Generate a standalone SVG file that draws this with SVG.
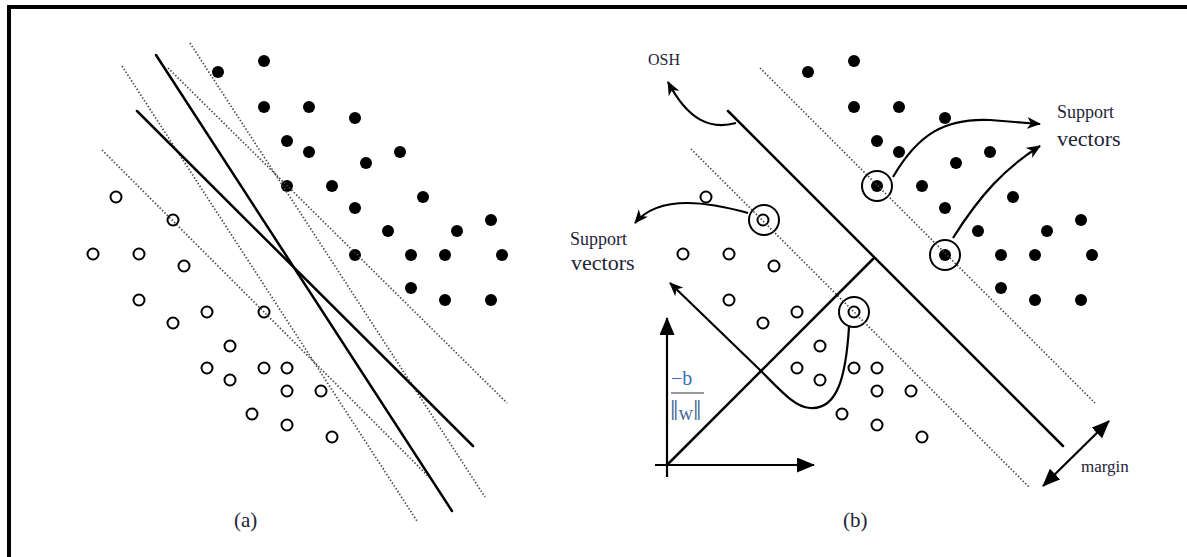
<svg xmlns="http://www.w3.org/2000/svg" xmlns:xlink="http://www.w3.org/1999/xlink" width="1187" height="557" viewBox="0 0 1187 557">
<style>
.solid{stroke:#000;stroke-width:2.5;fill:none;stroke-linecap:round}
.dot{stroke:#444;stroke-width:1.7;fill:none;stroke-dasharray:1.4 2}
.f{fill:#000}
.o{fill:#fff;stroke:#000;stroke-width:2}
.ring{fill:none;stroke:#000;stroke-width:2}
.arr{stroke:#000;stroke-width:2.2;fill:none}
.lbl{font-family:"Liberation Serif","Times New Roman",serif;fill:#1e2438}
</style>
<defs>
<marker id="ah" viewBox="0 0 14 12" refX="13" refY="6" markerWidth="14" markerHeight="12" markerUnits="userSpaceOnUse" orient="auto"><path d="M0,0 L14,6 L0,12 L4,6 z" fill="#000"/></marker>
<marker id="tri" viewBox="0 0 18 15" refX="17" refY="7.5" markerWidth="18" markerHeight="15" markerUnits="userSpaceOnUse" orient="auto-start-reverse"><path d="M0,0 L18,7.5 L0,15 z" fill="#000"/></marker>
<g id="pts">
<g class="f">
<circle cx="218" cy="72" r="6"/><circle cx="264" cy="61" r="6"/><circle cx="264" cy="107" r="6"/><circle cx="309" cy="107" r="6"/><circle cx="355" cy="118" r="6"/><circle cx="287" cy="141" r="6"/><circle cx="309" cy="152" r="6"/><circle cx="366" cy="163" r="6"/><circle cx="400" cy="152" r="6"/><circle cx="287" cy="186" r="6"/><circle cx="332" cy="186" r="6"/><circle cx="355" cy="208" r="6"/><circle cx="423" cy="197" r="6"/><circle cx="491" cy="220" r="6"/><circle cx="388" cy="231" r="6"/><circle cx="457" cy="231" r="6"/><circle cx="355" cy="255" r="6"/><circle cx="411" cy="255" r="6"/><circle cx="445" cy="255" r="6"/><circle cx="502" cy="255" r="6"/><circle cx="411" cy="288" r="6"/><circle cx="445" cy="300" r="6"/><circle cx="491" cy="300" r="6"/>
</g>
<g class="o">
<circle cx="116" cy="197" r="5.5"/><circle cx="173" cy="220" r="5.5"/><circle cx="93" cy="254" r="5.5"/><circle cx="139" cy="254" r="5.5"/><circle cx="184" cy="266" r="5.5"/><circle cx="139" cy="300" r="5.5"/><circle cx="173" cy="323" r="5.5"/><circle cx="207" cy="312" r="5.5"/><circle cx="264" cy="312" r="5.5"/><circle cx="230" cy="346" r="5.5"/><circle cx="207" cy="368" r="5.5"/><circle cx="230" cy="380" r="5.5"/><circle cx="264" cy="368" r="5.5"/><circle cx="287" cy="368" r="5.5"/><circle cx="287" cy="391" r="5.5"/><circle cx="321" cy="391" r="5.5"/><circle cx="252" cy="414" r="5.5"/><circle cx="287" cy="425" r="5.5"/><circle cx="332" cy="437" r="5.5"/>
</g>
</g>
</defs>
<rect width="1187" height="557" fill="#fff"/>
<g id="frame" stroke="#000" stroke-width="4">
<line x1="7" y1="7" x2="1187" y2="7"/>
<line x1="9" y1="5" x2="9" y2="557"/>
</g>
<g id="panel-a">
<use xlink:href="#pts"/>
<line class="dot" x1="122" y1="66" x2="417" y2="521"/>
<line class="dot" x1="190" y1="43" x2="485" y2="497"/>
<line class="dot" x1="168" y1="68" x2="507" y2="403"/>
<line class="dot" x1="102" y1="150" x2="430" y2="478"/>
<line class="solid" x1="156" y1="55" x2="452" y2="511"/>
<line class="solid" x1="137" y1="111" x2="473" y2="446"/>
<text class="lbl" x="234" y="527" font-size="21">(a)</text>
</g>
<g id="panel-b">
<use xlink:href="#pts" transform="translate(590,0)"/>
<g id="rings">
<circle class="ring" cx="877" cy="186" r="15"/>
<circle class="ring" cx="945" cy="255" r="15"/>
<circle class="ring" cx="764" cy="220" r="15"/>
<circle class="ring" cx="854" cy="312" r="15"/>
</g>
<line class="dot" x1="760" y1="68" x2="1095" y2="403"/>
<line class="dot" x1="691" y1="149" x2="1029" y2="487"/>
<line class="solid" x1="728" y1="111" x2="1063" y2="446"/>
<line class="solid" x1="667" y1="465" x2="873" y2="259"/>
</g>
<g id="connectors">
<path class="arr" d="M736,123 C710,130 688,120 668,82" marker-end="url(#ah)"/>
<path class="arr" d="M893,177 C918,134 945,118 990,120 L1040,124" marker-end="url(#ah)"/>
<path class="arr" d="M953,238 C980,195 1005,168 1040,146" marker-end="url(#ah)"/>
<path class="arr" d="M748,213 C712,203 660,193 635,223" marker-end="url(#ah)"/>
<path class="arr" d="M849,327 C846,375 838,410 810,408 C795,407 782,392 760,370 L670,283" marker-end="url(#ah)"/>
<line class="arr" x1="667" y1="477" x2="667" y2="318" stroke-width="2.6" marker-end="url(#tri)"/>
<line class="arr" x1="655" y1="465" x2="814" y2="465" stroke-width="2.6" marker-end="url(#tri)"/>
<line class="arr" x1="1043" y1="486" x2="1109" y2="421" stroke-width="2.6" marker-start="url(#tri)" marker-end="url(#tri)"/>
</g>
<g id="labels">
<text class="lbl" x="648" y="65" font-size="16">OSH</text>
<text class="lbl" x="570" y="245" font-size="18">Support</text>
<text class="lbl" x="571" y="270" font-size="22">vectors</text>
<text class="lbl" x="1057" y="118" font-size="18">Support</text>
<text class="lbl" x="1057" y="146" font-size="22">vectors</text>
<text class="lbl" x="1081" y="472" font-size="17">margin</text>
<text class="lbl" x="843" y="527" font-size="21">(b)</text>
<text class="lbl" x="671" y="385" font-size="20" style="fill:#3a6fb2">−b</text>
<line x1="671" y1="393" x2="704" y2="393" stroke="#777" stroke-width="1.5"/>
<text class="lbl" x="670" y="420" font-size="20" style="fill:#4a6a94"><tspan font-size="30">‖</tspan>w<tspan font-size="30">‖</tspan></text>
</g>
</svg>
